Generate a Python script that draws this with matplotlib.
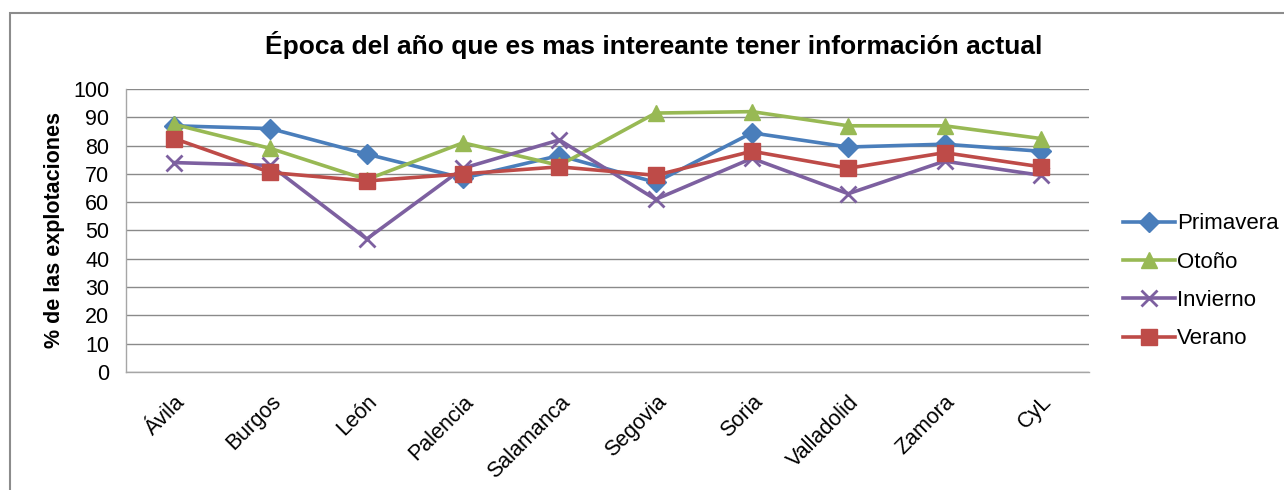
import numpy as np
import matplotlib.pyplot as plt
from matplotlib.patches import Rectangle

provincias = ['Ávila', 'Burgos', 'León', 'Palencia', 'Salamanca', 'Segovia',
              'Soria', 'Valladolid', 'Zamora', 'CyL']
primavera = [87, 86, 77, 68.5, 76.5, 67, 84.5, 79.5, 80.5, 78]
otono = [87.5, 79, 68, 81, 73, 91.5, 92, 87, 87, 82.5]
invierno = [74, 73, 47, 72, 82, 61, 75.5, 63, 74.5, 69.5]
verano = [82.5, 70.5, 67.5, 70, 72.5, 69.5, 78, 72, 77.5, 72.5]
yticks = list(range(0, 101, 10))

plt.rcParams['font.family'] = ['Liberation Sans', 'DejaVu Sans']

fig = plt.figure(figsize=(12.84, 4.9), dpi=100)
ax = fig.add_axes([126 / 1284, 1 - 372 / 490, (1089 - 126) / 1284, (372 - 89) / 490])

# marco exterior del gráfico
fig.patches.append(Rectangle((10 / 1284, -0.05), 1.2, 1 - 13 / 490 + 0.05,
                             transform=fig.transFigure, fill=False,
                             edgecolor='#8c8c8c', linewidth=1.5))

x = np.arange(len(provincias))
series = [
    ('Primavera', primavera, '#4A7EBB', 'D', 10),
    ('Otoño', otono, '#98B954', '^', 12),
    ('Invierno', invierno, '#7D60A0', 'x', 12),
    ('Verano', verano, '#BE4B48', 's', 11),
]
for nombre, vals, color, marker, ms in series:
    ax.plot(x, vals, color=color, linewidth=2.6, marker=marker, markersize=ms,
            markeredgewidth=2 if marker == 'x' else 1, markeredgecolor=color,
            label=nombre)

ax.set_xlim(-0.5, len(provincias) - 0.5)
ax.set_ylim(0, 100)
ax.set_yticks(yticks)
ax.set_xticks(x)
ax.set_xticklabels(provincias, rotation=45, ha='right', rotation_mode='anchor',
                   fontsize=15.5)
ax.tick_params(axis='y', labelsize=15.5, length=0, pad=12)
ax.tick_params(axis='x', length=0, pad=14)
ax.yaxis.grid(True, color='#8a8a8a', linewidth=1)
ax.set_axisbelow(True)
for s in ['top', 'right']:
    ax.spines[s].set_visible(False)
for s in ['left', 'bottom']:
    ax.spines[s].set_color('#a6a6a6')
    ax.spines[s].set_linewidth(1)

ax.set_ylabel('% de las explotaciones', fontsize=15.5, fontweight='bold', labelpad=6)
fig.text(0.5 + 12 / 1284, 1 - 45 / 490, 'Época del año que es mas intereante tener información actual',
         ha='center', va='center', fontsize=19, fontweight='bold')

leg = ax.legend(loc='center left', bbox_to_anchor=(1.015, 0.32), frameon=False,
                fontsize=16, handlelength=2.3, labelspacing=0.78, handletextpad=0.1)

fig.savefig('out.png', dpi=100)
